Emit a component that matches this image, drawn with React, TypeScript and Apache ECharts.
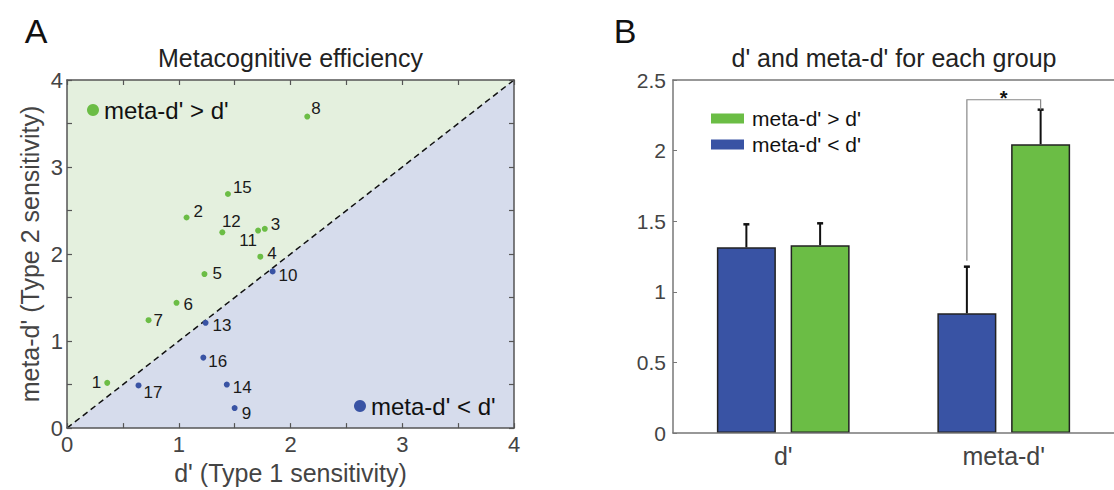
import React, { useEffect, useRef } from "react";
import * as echarts from "echarts";

// ---------- Panel A data ----------
const greenIds = [1, 2, 3, 4, 5, 6, 7, 8, 11, 12, 15];
const greenD = [0.36, 1.07, 1.77, 1.73, 1.23, 0.98, 0.73, 2.15, 1.71, 1.39, 1.44];
const greenMeta = [0.52, 2.42, 2.29, 1.97, 1.77, 1.44, 1.24, 3.58, 2.27, 2.25, 2.69];

const blueIds = [9, 10, 13, 14, 16, 17];
const blueD = [1.5, 1.84, 1.24, 1.43, 1.22, 0.64];
const blueMeta = [0.23, 1.8, 1.21, 0.5, 0.81, 0.49];

const diagonal = [[0, 0], [4, 4]];

// ---------- Panel B data ----------
const barCategories = ["d'", "meta-d'"];
const blueMeans = [1.315, 0.848];
const greenMeans = [1.33, 2.045];
const blueErrTop = [1.478, 1.178];
const greenErrTop = [1.485, 2.29];
const bracketLevels = [1.22, 2.36, 2.29]; // left foot, top, right foot
const bracketLabel = "*";

const GREEN_NAME = "meta-d' > d'";
const BLUE_NAME = "meta-d' < d'";

// label placement for scatter (styling only)
const labelPlace: Record<number, any> = {
  1: { position: "left", distance: 3, offset: [0, 0] },
  2: { offset: [1, -6] },
  3: { offset: [0, -4] },
  4: { offset: [1, -3] },
  5: { offset: [2, -1] },
  6: { offset: [1, 2] },
  7: { offset: [-1, 0] },
  8: { offset: [-2, -8] },
  9: { offset: [1, 5] },
  10: { offset: [0, 4] },
  11: { position: "bottom", distance: 3, offset: [-10, -5] },
  12: { position: "top", distance: 3, offset: [9, 4] },
  13: { offset: [1, 3] },
  14: { offset: [0, 3] },
  15: { offset: [-1, -7] },
  16: { offset: [-1, 4] },
  17: { offset: [-1, 7] },
};

const FONT = "'Liberation Sans', Arial, Helvetica, sans-serif";
const C_GREEN = "#6bbd45";
const C_BLUE = "#3953a4";
const BG_GREEN = "#e4f0de";
const BG_BLUE = "#d6dcec";
const AX = "#555";
const TXT = "#444";

function pts(ids: number[], xs: number[], ys: number[]) {
  return ids.map((id, i) => {
    const p = labelPlace[id] || {};
    return {
      value: [xs[i], ys[i]],
      label: {
        show: true,
        formatter: String(id),
        position: p.position || "right",
        distance: p.distance ?? 3,
        offset: p.offset || [0, 0],
      },
    };
  });
}

const intOnly = (v: number) => (Math.abs(v - Math.round(v)) < 1e-9 ? String(Math.round(v)) : "");

const centerText = (x: number, y: number, text: string, font: string, fill: string) => ({
  type: "text", x, y,
  style: { text, font, fill, align: "center", verticalAlign: "middle", textAlign: "center", textVerticalAlign: "middle" },
});

export default function App() {
  const ref = useRef<HTMLDivElement>(null);
  useEffect(() => {
    document.body.style.margin = "0";
    if (!ref.current) return;
    const chart = echarts.init(ref.current, undefined, { renderer: "svg" });
    const BAR_W = 59;
    const HALF = (BAR_W + BAR_W * 0.25) / 2;

    const errData = [
      ...blueErrTop.map((t, i) => [i, blueMeans[i], t, -1]),
      ...greenErrTop.map((t, i) => [i, greenMeans[i], t, 1]),
    ];

    const option: any = {
      animation: false,
      textStyle: { fontFamily: FONT },
      graphic: [
        centerText(36, 31, "A", `34px ${FONT}`, "#111"),
        centerText(625, 31, "B", `34px ${FONT}`, "#111"),
        centerText(290.5, 58, "Metacognitive efficiency", `25px ${FONT}`, "#222"),
        centerText(894, 58, "d' and meta-d' for each group", `25px ${FONT}`, "#222"),
      ],
      legend: [
        {
          data: [{ name: GREEN_NAME, icon: "circle", itemStyle: { color: C_GREEN, borderWidth: 0 } }],
          left: 87, top: 98, padding: 0,
          itemWidth: 12, itemHeight: 12,
          textStyle: { fontSize: 24, color: "#111", fontFamily: FONT },
          selectedMode: false,
        },
        {
          data: [{ name: BLUE_NAME, icon: "circle", itemStyle: { color: C_BLUE, borderWidth: 0 } }],
          left: 354, top: 394, padding: 0,
          itemWidth: 12, itemHeight: 12,
          textStyle: { fontSize: 24, color: "#111", fontFamily: FONT },
          selectedMode: false,
        },
        {
          data: [
            { name: GREEN_NAME, icon: "rect", itemStyle: { color: C_GREEN, borderWidth: 0 } },
            { name: BLUE_NAME, icon: "rect", itemStyle: { color: C_BLUE, borderWidth: 0 } },
          ],
          orient: "vertical",
          left: 711, top: 108, padding: 0, itemGap: 5,
          itemWidth: 33, itemHeight: 10,
          textStyle: { fontSize: 21, color: "#111", fontFamily: FONT, padding: [0, 0, 0, 3] },
          selectedMode: false,
        },
      ],
      grid: [
        { left: 67, top: 80, width: 447, height: 352, show: true, backgroundColor: BG_GREEN, borderWidth: 0 },
        { left: 673, top: 80, width: 447, height: 353, show: false },
      ],
      xAxis: [
        {
          gridIndex: 0, type: "value", min: 0, max: 4, interval: 0.5, z: 10,
          axisLine: { show: true, onZero: false, lineStyle: { color: AX, width: 1.5 } },
          axisTick: { show: true, inside: true, length: 5, lineStyle: { color: AX, width: 1.2 } },
          axisLabel: { formatter: intOnly, fontSize: 22, color: TXT, margin: 5, fontFamily: FONT },
          splitLine: { show: false },
          name: "d' (Type 1 sensitivity)", nameLocation: "middle", nameGap: 30,
          nameTextStyle: { fontSize: 25, color: TXT, fontFamily: FONT },
        },
        {
          gridIndex: 0, type: "value", min: 0, max: 4, interval: 0.5, position: "top", z: 10,
          axisLine: { show: true, onZero: false, lineStyle: { color: AX, width: 1.5 } },
          axisTick: { show: true, inside: true, length: 5, lineStyle: { color: AX, width: 1.2 } },
          axisLabel: { show: false }, splitLine: { show: false },
        },
        {
          gridIndex: 1, type: "category", data: barCategories, z: 10,
          axisLine: { show: true, onZero: false, lineStyle: { color: "#777", width: 1.5 } },
          axisTick: { show: false },
          axisLabel: { fontSize: 25, color: TXT, margin: 10, fontFamily: FONT },
        },
        {
          gridIndex: 1, type: "category", data: barCategories, position: "top", z: 10,
          axisLine: { show: true, onZero: false, lineStyle: { color: "#777", width: 1.5 } },
          axisTick: { show: false }, axisLabel: { show: false },
        },
      ],
      yAxis: [
        {
          gridIndex: 0, type: "value", min: 0, max: 4, interval: 0.5, z: 10,
          axisLine: { show: true, onZero: false, lineStyle: { color: AX, width: 1.5 } },
          axisTick: { show: true, inside: true, length: 5, lineStyle: { color: AX, width: 1.2 } },
          axisLabel: { formatter: intOnly, fontSize: 22, color: TXT, margin: 4, fontFamily: FONT },
          splitLine: { show: false },
          name: "meta-d' (Type 2 sensitivity)", nameLocation: "middle", nameGap: 25,
          nameTextStyle: { fontSize: 25, color: TXT, fontFamily: FONT },
        },
        {
          gridIndex: 0, type: "value", min: 0, max: 4, interval: 0.5, position: "right", z: 10,
          axisLine: { show: true, onZero: false, lineStyle: { color: AX, width: 1.5 } },
          axisTick: { show: true, inside: true, length: 5, lineStyle: { color: AX, width: 1.2 } },
          axisLabel: { show: false }, splitLine: { show: false },
        },
        {
          gridIndex: 1, type: "value", min: 0, max: 2.5, interval: 0.5, z: 10,
          axisLine: { show: true, onZero: false, lineStyle: { color: "#777", width: 1.5 } },
          axisTick: { show: true, inside: true, length: 4, lineStyle: { color: "#777" } },
          axisLabel: { fontSize: 21, color: TXT, margin: 7, fontFamily: FONT },
          splitLine: { show: false },
        },
      ],
      series: [
        {
          type: "line", xAxisIndex: 0, yAxisIndex: 0, data: diagonal, symbol: "none",
          lineStyle: { color: "#111", width: 1.5, type: [6, 4] },
          areaStyle: { color: BG_BLUE, opacity: 1, origin: "start" },
          silent: true, z: 1,
        },
        {
          name: GREEN_NAME, type: "scatter", xAxisIndex: 0, yAxisIndex: 0,
          symbolSize: 6, itemStyle: { color: C_GREEN, opacity: 1 },
          label: { fontSize: 17, color: "#1a1a1a", fontFamily: FONT },
          data: pts(greenIds, greenD, greenMeta), z: 3,
        },
        {
          name: BLUE_NAME, type: "scatter", xAxisIndex: 0, yAxisIndex: 0,
          symbolSize: 6, itemStyle: { color: C_BLUE, opacity: 1 },
          label: { fontSize: 17, color: "#1a1a1a", fontFamily: FONT },
          data: pts(blueIds, blueD, blueMeta), z: 3,
        },
        {
          name: BLUE_NAME, type: "bar", xAxisIndex: 2, yAxisIndex: 2, data: blueMeans,
          barWidth: BAR_W, barGap: "25%",
          itemStyle: { color: C_BLUE, borderColor: "#222", borderWidth: 1.5 },
        },
        {
          name: GREEN_NAME, type: "bar", xAxisIndex: 2, yAxisIndex: 2, data: greenMeans,
          barWidth: BAR_W, barGap: "25%",
          itemStyle: { color: C_GREEN, borderColor: "#222", borderWidth: 1.5 },
        },
        {
          type: "custom", xAxisIndex: 2, yAxisIndex: 2, data: errData, z: 4, silent: true,
          renderItem: (params: any, api: any) => {
            const ci = api.value(0);
            const side = api.value(3);
            const base = api.coord([ci, api.value(1)]);
            const top = api.coord([ci, api.value(2)]);
            const x = base[0] + side * HALF;
            return {
              type: "group",
              children: [
                { type: "line", shape: { x1: x, y1: base[1], x2: x, y2: top[1] }, style: { stroke: "#111", lineWidth: 2 } },
                { type: "line", shape: { x1: x - 3, y1: top[1], x2: x + 3, y2: top[1] }, style: { stroke: "#111", lineWidth: 2.5 } },
              ],
            };
          },
        },
        {
          type: "custom", xAxisIndex: 2, yAxisIndex: 2, data: [[1, ...bracketLevels]], z: 4, silent: true,
          renderItem: (params: any, api: any) => {
            const ci = api.value(0);
            const c = api.coord([ci, api.value(1)]);
            const yl = c[1];
            const yt = api.coord([ci, api.value(2)])[1];
            const yr = api.coord([ci, api.value(3)])[1];
            const xl = c[0] - HALF;
            const xr = c[0] + HALF;
            return {
              type: "group",
              children: [
                { type: "polyline", shape: { points: [[xl, yl], [xl, yt], [xr, yt], [xr, yr]] }, style: { stroke: "#888", lineWidth: 1.2, fill: "none" } },
                { type: "text", x: (xl + xr) / 2, y: yt - 2, style: { text: bracketLabel, font: `bold 20px ${FONT}`, fill: "#111", align: "center", verticalAlign: "middle", textAlign: "center", textVerticalAlign: "middle" } },
              ],
            };
          },
        },
      ],
    };
    chart.setOption(option);
    return () => chart.dispose();
  }, []);
  return <div ref={ref} style={{ width: 1114, height: 490 }} />;
}
